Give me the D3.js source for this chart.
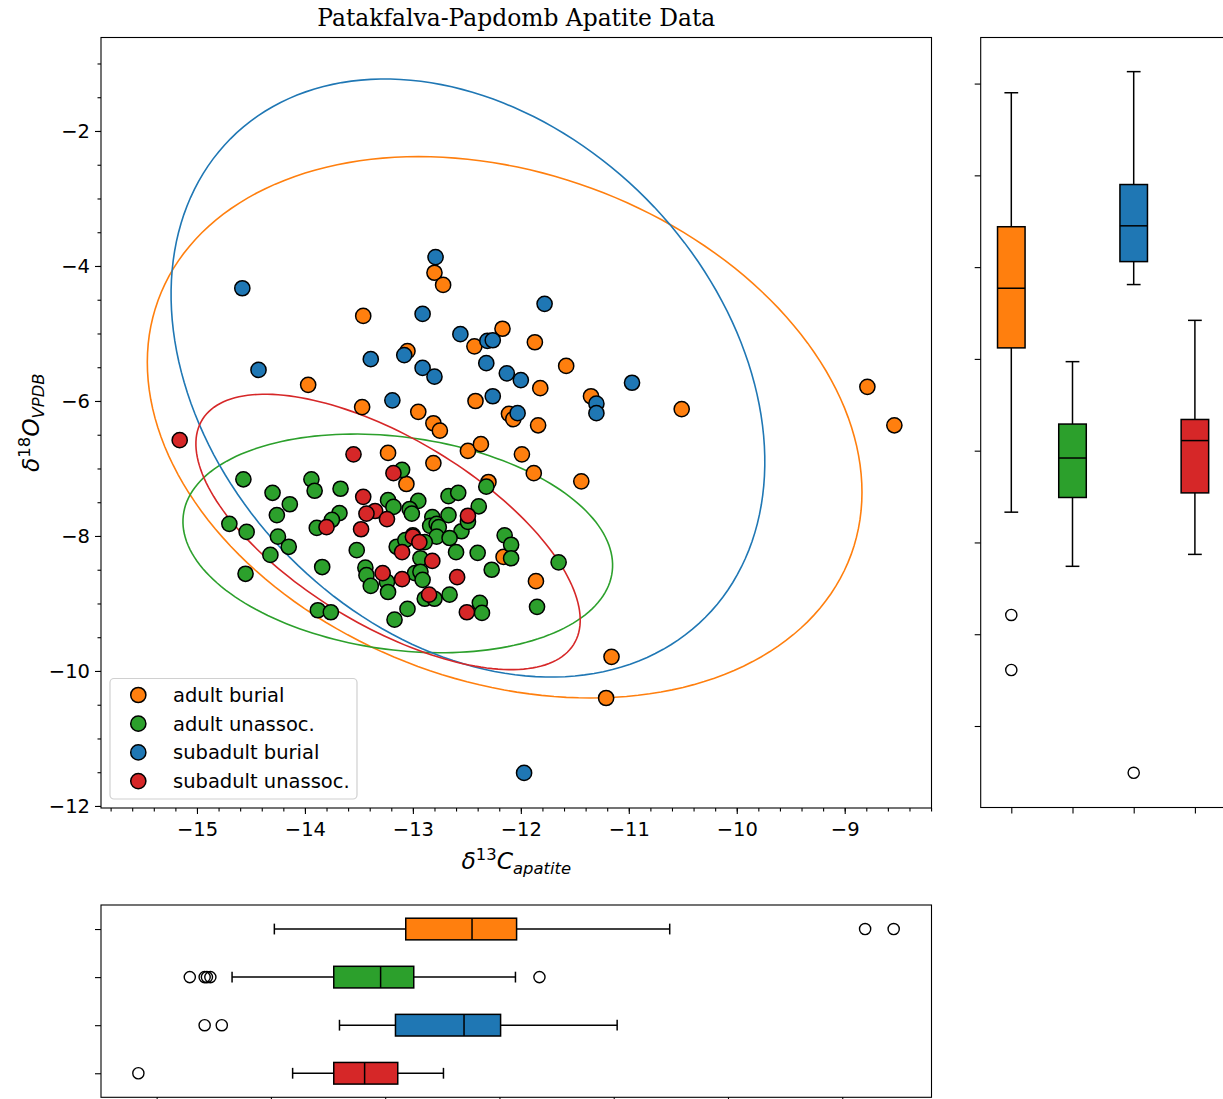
<!DOCTYPE html>
<html>
<head>
<meta charset="utf-8">
<script src="https://cdn.jsdelivr.net/npm/d3@7"></script>
<style>
  body { margin: 0; background: #fff; }
  svg text { font-family: "DejaVu Sans", sans-serif; fill: #000; }
</style>
</head>
<body>
<div id="chart"></div>
<script>
// groups and colours
const groups = ["adult burial", "adult unassoc.", "subadult burial", "subadult unassoc."];
const colors = ["#ff7f0e", "#2ca02c", "#1f77b4", "#d62728"];

// scatter data: d13C (apatite) and d18O (VPDB) per group
const adultBurialC = [-12.80, -12.72, -13.46, -12.17, -12.43, -13.05, -13.97, -13.47, -12.95, -12.81, -12.75, -12.42,
  -12.11, -12.07, -11.87, -11.58, -11.82, -11.35, -10.51, -8.79, -8.54, -11.84, -13.23, -12.81, -12.49, -12.37,
  -11.99, -11.88, -11.44, -13.06, -12.30, -12.16, -11.86, -11.16, -11.21];
const adultBurialO = [-4.10, -4.28, -4.74, -4.93, -5.19, -5.26, -5.76, -6.09, -6.16, -6.33, -6.44, -6.00,
  -6.19, -6.27, -5.13, -5.48, -5.81, -5.93, -6.12, -5.79, -6.36, -6.36, -6.77, -6.92, -6.74, -6.64,
  -6.79, -7.07, -7.19, -7.23, -7.20, -8.31, -8.67, -9.79, -10.40];

const adultUnassocC = [-14.57, -14.30, -14.14, -14.26, -14.70, -14.54, -14.25, -14.15, -14.32, -14.55, -13.94, -13.91,
  -13.67, -13.68, -13.75, -13.89, -13.84, -13.52, -13.44, -13.43, -13.39, -13.23, -13.18, -13.15, -13.88, -13.76,
  -13.24, -13.23, -13.17, -13.05, -12.89, -12.80, -12.38, -12.36, -13.10, -12.95, -13.03, -13.01, -12.67, -12.58,
  -12.39, -12.82, -12.67, -12.84, -12.78, -12.76, -12.55, -12.49, -12.78, -12.66, -12.89, -13.00, -13.07, -12.93,
  -12.60, -12.40, -12.15, -12.09, -12.09, -12.27, -11.65, -12.98, -12.93, -12.91, -12.66, -11.85, -12.32];
const adultUnassocO = [-7.16, -7.36, -7.53, -7.69, -7.82, -7.94, -8.01, -8.16, -8.28, -8.56, -7.16, -7.33,
  -7.30, -7.66, -7.76, -7.88, -8.46, -8.21, -8.47, -8.58, -8.74, -7.47, -7.57, -8.16, -9.10, -9.13,
  -8.68, -8.83, -9.24, -9.08, -8.93, -8.93, -8.99, -9.14, -7.02, -7.48, -7.60, -7.67, -7.41, -7.36,
  -7.56, -7.72, -7.69, -7.85, -7.82, -7.87, -7.93, -7.79, -8.01, -8.03, -8.09, -7.99, -8.06, -8.33,
  -8.24, -8.25, -7.99, -8.13, -8.33, -8.50, -8.39, -8.55, -8.53, -8.65, -8.87, -9.05, -7.27];

const subadultBurialC = [-12.79, -14.58, -12.91, -12.56, -12.31, -12.26, -13.39, -14.43, -12.91, -12.80, -12.32,
  -12.13, -12.00, -13.19, -12.26, -12.03, -13.08, -11.78, -10.97, -11.30, -11.30, -11.97];
const subadultBurialO = [-3.87, -4.33, -4.71, -5.01, -5.11, -5.10, -5.38, -5.54, -5.51, -5.64, -5.44,
  -5.59, -5.69, -5.99, -5.93, -6.18, -5.32, -4.56, -5.73, -6.04, -6.18, -11.51];

const subadultUnassocC = [-15.16, -13.55, -13.18, -13.46, -13.35, -13.43, -13.24, -13.80, -13.48, -13.28,
  -13.10, -12.49, -13.00, -12.94, -12.82, -13.10, -12.59, -12.85, -12.50];
const subadultUnassocO = [-6.58, -6.79, -7.07, -7.42, -7.63, -7.67, -7.75, -7.87, -7.90, -8.55,
  -8.24, -7.70, -8.01, -8.09, -8.37, -8.64, -8.61, -8.87, -9.13];

const seriesC = [adultBurialC, adultUnassocC, subadultBurialC, subadultUnassocC];
const seriesO = [adultBurialO, adultUnassocO, subadultBurialO, subadultUnassocO];

// confidence ellipses: centre, half extents along each axis, correlation
const ellipseCx = [-12.15, -13.14, -12.49, -13.23];
const ellipseCy = [-6.39, -8.11, -5.66, -7.94];
const ellipseRx = [3.31, 1.99, 2.75, 1.78];
const ellipseRy = [4.01, 1.62, 4.43, 2.04];
const ellipseRho = [-0.24, -0.20, -0.28, -0.64];

// box plot statistics, d18O (right panel)
const boxOLo = [-8.67, -9.26, -6.19, -9.13];
const boxOQ1 = [-6.88, -8.51, -5.94, -8.46];
const boxOMed = [-6.23, -8.08, -5.55, -7.89];
const boxOQ3 = [-5.56, -7.71, -5.10, -7.66];
const boxOHi = [-4.10, -7.03, -3.87, -6.58];
const boxOFliers = [[-9.79, -10.39], [], [-11.51], []];

// box plot statistics, d13C (bottom panel)
const boxCLo = [-13.97, -14.34, -13.40, -13.81];
const boxCQ1 = [-12.82, -13.45, -12.91, -13.45];
const boxCMed = [-12.24, -13.04, -12.31, -13.18];
const boxCQ3 = [-11.85, -12.75, -11.99, -12.89];
const boxCHi = [-10.51, -11.86, -10.97, -12.49];
const boxCFliers = [[-8.80, -8.55], [-14.71, -14.58, -14.56, -14.53, -11.65], [-14.58, -14.43], [-15.16]];

const xTicks = [-15, -14, -13, -12, -11, -10, -9];
const yTicks = [-12, -10, -8, -6, -4, -2];

const W = 1223, H = 1099;
const svg = d3.select("#chart").append("svg").attr("width", W).attr("height", H);

// main panel geometry
const mL = 101, mR = 931.5, mT = 37.5, mB = 808;
const x = d3.scaleLinear().domain([-15.889, -8.196]).range([mL, mR]);
const y = d3.scaleLinear().domain([-12.03, -0.615]).range([mB, mT]);

// right panel (d18O boxes)
const rL = 980.7, rT = 37.5, rB = 807.5;
const xR = d3.scaleLinear().domain([0.5, 4.5]).range([rL, rL + 244.8]);
const yR = d3.scaleLinear().domain([-11.888, -3.498]).range([rB, rT]);

// bottom panel (d13C boxes)
const bT = 905, bB = 1097.3;
const xB = d3.scaleLinear().domain([-15.487, -8.219]).range([mL, mR]);
const yB = d3.scaleLinear().domain([0.5, 4.5]).range([bT, bB]);

const boxW = 0.45;

function styleAxis(g) {
  g.select(".domain").remove();
  g.selectAll(".tick line").attr("stroke", "#000").attr("stroke-width", 1.1);
  g.selectAll(".tick text").style("font-size", "19.5px").style("font-family", "DejaVu Sans");
}

// ---------- main scatter panel ----------
svg.append("defs").append("clipPath").attr("id", "mainclip")
  .append("rect").attr("x", mL).attr("y", mT).attr("width", mR - mL).attr("height", mB - mT);

const plot = svg.append("g").attr("clip-path", "url(#mainclip)");

// ellipses from centre / extents / correlation
const tSteps = d3.range(0, 361, 2).map(d => d * Math.PI / 180);
const ellLine = d3.line().x(d => x(d[0])).y(d => y(d[1]));
groups.forEach((g, i) => {
  const r = ellipseRho[i];
  const a = Math.sqrt(1 + r), b = Math.sqrt(1 - r);
  const pts = tSteps.map(t => {
    const u1 = a * Math.cos(t), u2 = b * Math.sin(t);
    return [ellipseCx[i] + ellipseRx[i] * (u1 - u2) / Math.SQRT2,
            ellipseCy[i] + ellipseRy[i] * (u1 + u2) / Math.SQRT2];
  });
  plot.append("path").attr("d", ellLine(pts))
    .attr("fill", "none").attr("stroke", colors[i]).attr("stroke-width", 1.6);
});

// points
groups.forEach((g, i) => {
  plot.append("g").selectAll("circle")
    .data(seriesC[i].map((c, j) => [c, seriesO[i][j]]))
    .enter().append("circle")
    .attr("cx", d => x(d[0])).attr("cy", d => y(d[1])).attr("r", 7.6)
    .attr("fill", colors[i]).attr("stroke", "#000").attr("stroke-width", 1.5);
});

// axes
svg.append("g").attr("transform", `translate(0,${mB})`)
  .call(d3.axisBottom(x).tickValues(d3.range(-15.8, -8.2, 0.2)).tickSize(3.5).tickFormat(""))
  .call(styleAxis);
svg.append("g").attr("transform", `translate(0,${mB})`)
  .call(d3.axisBottom(x).tickValues(xTicks).tickSize(6).tickPadding(8).tickFormat(d3.format("d")))
  .call(styleAxis);
svg.append("g").attr("transform", `translate(${mL},0)`)
  .call(d3.axisLeft(y).tickValues(d3.range(-12, -0.6, 0.5)).tickSize(3.5).tickFormat(""))
  .call(styleAxis);
svg.append("g").attr("transform", `translate(${mL},0)`)
  .call(d3.axisLeft(y).tickValues(yTicks).tickSize(6).tickPadding(5).tickFormat(d3.format("d")))
  .call(styleAxis);

svg.append("rect").attr("x", mL).attr("y", mT).attr("width", mR - mL).attr("height", mB - mT)
  .attr("fill", "none").attr("stroke", "#000").attr("stroke-width", 1.1);

// legend
const lg = svg.append("g");
lg.append("rect").attr("x", 110).attr("y", 678.5).attr("width", 247).attr("height", 120.5).attr("rx", 4)
  .attr("fill", "#fff").attr("fill-opacity", 0.8).attr("stroke", "#d0d0d0").attr("stroke-width", 1.2);
groups.forEach((g, i) => {
  const ly = 695 + i * 28.7;
  lg.append("circle").attr("cx", 138.3).attr("cy", ly).attr("r", 7.6)
    .attr("fill", colors[i]).attr("stroke", "#000").attr("stroke-width", 1.5);
  lg.append("text").attr("x", 173).attr("y", ly).attr("dy", "0.35em")
    .style("font-size", "19.5px").text(g);
});

// axis labels
const xl = svg.append("text").attr("x", (mL + mR) / 2).attr("y", 869).attr("text-anchor", "middle")
  .style("font-size", "23.4px");
xl.append("tspan").style("font-style", "italic").text("δ");
xl.append("tspan").attr("dy", -9).style("font-size", "16.4px").text("13");
xl.append("tspan").attr("dy", 9).style("font-style", "italic").text("C");
xl.append("tspan").attr("dy", 5).style("font-size", "16.4px").style("font-style", "italic").text("apatite");

const yl = svg.append("text").attr("transform", `translate(39,${(mT + mB) / 2}) rotate(-90)`)
  .attr("text-anchor", "middle").style("font-size", "23.4px");
yl.append("tspan").style("font-style", "italic").text("δ");
yl.append("tspan").attr("dy", -9).style("font-size", "16.4px").text("18");
yl.append("tspan").attr("dy", 9).style("font-style", "italic").text("O");
yl.append("tspan").attr("dy", 5).style("font-size", "16.4px").style("font-style", "italic").text("VPDB");

// title
svg.append("text").attr("x", (mL + mR) / 2).attr("y", 26).attr("text-anchor", "middle")
  .style("font-family", "DejaVu Serif").style("font-size", "23.4px")
  .text("Patakfalva-Papdomb Apatite Data");

// ---------- right panel: vertical box plots of d18O ----------
const rp = svg.append("g");
groups.forEach((g, i) => {
  const p = i + 1;
  const gg = rp.append("g");
  // whiskers
  gg.append("line").attr("x1", xR(p)).attr("x2", xR(p)).attr("y1", yR(boxOQ3[i])).attr("y2", yR(boxOHi[i]));
  gg.append("line").attr("x1", xR(p)).attr("x2", xR(p)).attr("y1", yR(boxOQ1[i])).attr("y2", yR(boxOLo[i]));
  gg.append("line").attr("x1", xR(p - boxW / 4)).attr("x2", xR(p + boxW / 4)).attr("y1", yR(boxOHi[i])).attr("y2", yR(boxOHi[i]));
  gg.append("line").attr("x1", xR(p - boxW / 4)).attr("x2", xR(p + boxW / 4)).attr("y1", yR(boxOLo[i])).attr("y2", yR(boxOLo[i]));
  gg.selectAll("line").attr("stroke", "#000").attr("stroke-width", 1.5);
  gg.append("rect").attr("x", xR(p - boxW / 2)).attr("width", xR(p + boxW / 2) - xR(p - boxW / 2))
    .attr("y", yR(boxOQ3[i])).attr("height", yR(boxOQ1[i]) - yR(boxOQ3[i]))
    .attr("fill", colors[i]).attr("stroke", "#000").attr("stroke-width", 1.5);
  gg.append("line").attr("x1", xR(p - boxW / 2)).attr("x2", xR(p + boxW / 2))
    .attr("y1", yR(boxOMed[i])).attr("y2", yR(boxOMed[i])).attr("stroke", "#000").attr("stroke-width", 1.5);
  gg.selectAll("circle.fl").data(boxOFliers[i]).enter().append("circle")
    .attr("cx", xR(p)).attr("cy", d => yR(d)).attr("r", 5.6)
    .attr("fill", "none").attr("stroke", "#000").attr("stroke-width", 1.4);
});
svg.append("g").attr("transform", `translate(${rL},0)`)
  .call(d3.axisLeft(yR).tickValues(d3.range(-11, -3.9, 1)).tickSize(6).tickFormat(""))
  .call(styleAxis);
svg.append("g").attr("transform", `translate(0,${rB})`)
  .call(d3.axisBottom(xR).tickValues([1, 2, 3, 4]).tickSize(6).tickFormat(""))
  .call(styleAxis);
svg.append("rect").attr("x", rL).attr("y", rT).attr("width", 260).attr("height", rB - rT)
  .attr("fill", "none").attr("stroke", "#000").attr("stroke-width", 1.1);

// ---------- bottom panel: horizontal box plots of d13C ----------
const bp = svg.append("g");
groups.forEach((g, i) => {
  const p = i + 1;
  const gg = bp.append("g");
  gg.append("line").attr("y1", yB(p)).attr("y2", yB(p)).attr("x1", xB(boxCQ3[i])).attr("x2", xB(boxCHi[i]));
  gg.append("line").attr("y1", yB(p)).attr("y2", yB(p)).attr("x1", xB(boxCQ1[i])).attr("x2", xB(boxCLo[i]));
  gg.append("line").attr("y1", yB(p - boxW / 4)).attr("y2", yB(p + boxW / 4)).attr("x1", xB(boxCHi[i])).attr("x2", xB(boxCHi[i]));
  gg.append("line").attr("y1", yB(p - boxW / 4)).attr("y2", yB(p + boxW / 4)).attr("x1", xB(boxCLo[i])).attr("x2", xB(boxCLo[i]));
  gg.selectAll("line").attr("stroke", "#000").attr("stroke-width", 1.5);
  gg.append("rect").attr("y", yB(p - boxW / 2)).attr("height", yB(p + boxW / 2) - yB(p - boxW / 2))
    .attr("x", xB(boxCQ1[i])).attr("width", xB(boxCQ3[i]) - xB(boxCQ1[i]))
    .attr("fill", colors[i]).attr("stroke", "#000").attr("stroke-width", 1.5);
  gg.append("line").attr("y1", yB(p - boxW / 2)).attr("y2", yB(p + boxW / 2))
    .attr("x1", xB(boxCMed[i])).attr("x2", xB(boxCMed[i])).attr("stroke", "#000").attr("stroke-width", 1.5);
  gg.selectAll("circle.fl").data(boxCFliers[i]).enter().append("circle")
    .attr("cy", yB(p)).attr("cx", d => xB(d)).attr("r", 5.6)
    .attr("fill", "none").attr("stroke", "#000").attr("stroke-width", 1.4);
});
svg.append("g").attr("transform", `translate(${mL},0)`)
  .call(d3.axisLeft(yB).tickValues([1, 2, 3, 4]).tickSize(6).tickFormat(""))
  .call(styleAxis);
svg.append("g").attr("transform", `translate(0,${bB})`)
  .call(d3.axisBottom(xB).tickValues(xTicks).tickSize(6).tickFormat(""))
  .call(styleAxis);
svg.append("rect").attr("x", mL).attr("y", bT).attr("width", mR - mL).attr("height", bB - bT)
  .attr("fill", "none").attr("stroke", "#000").attr("stroke-width", 1.1);
</script>
</body>
</html>
